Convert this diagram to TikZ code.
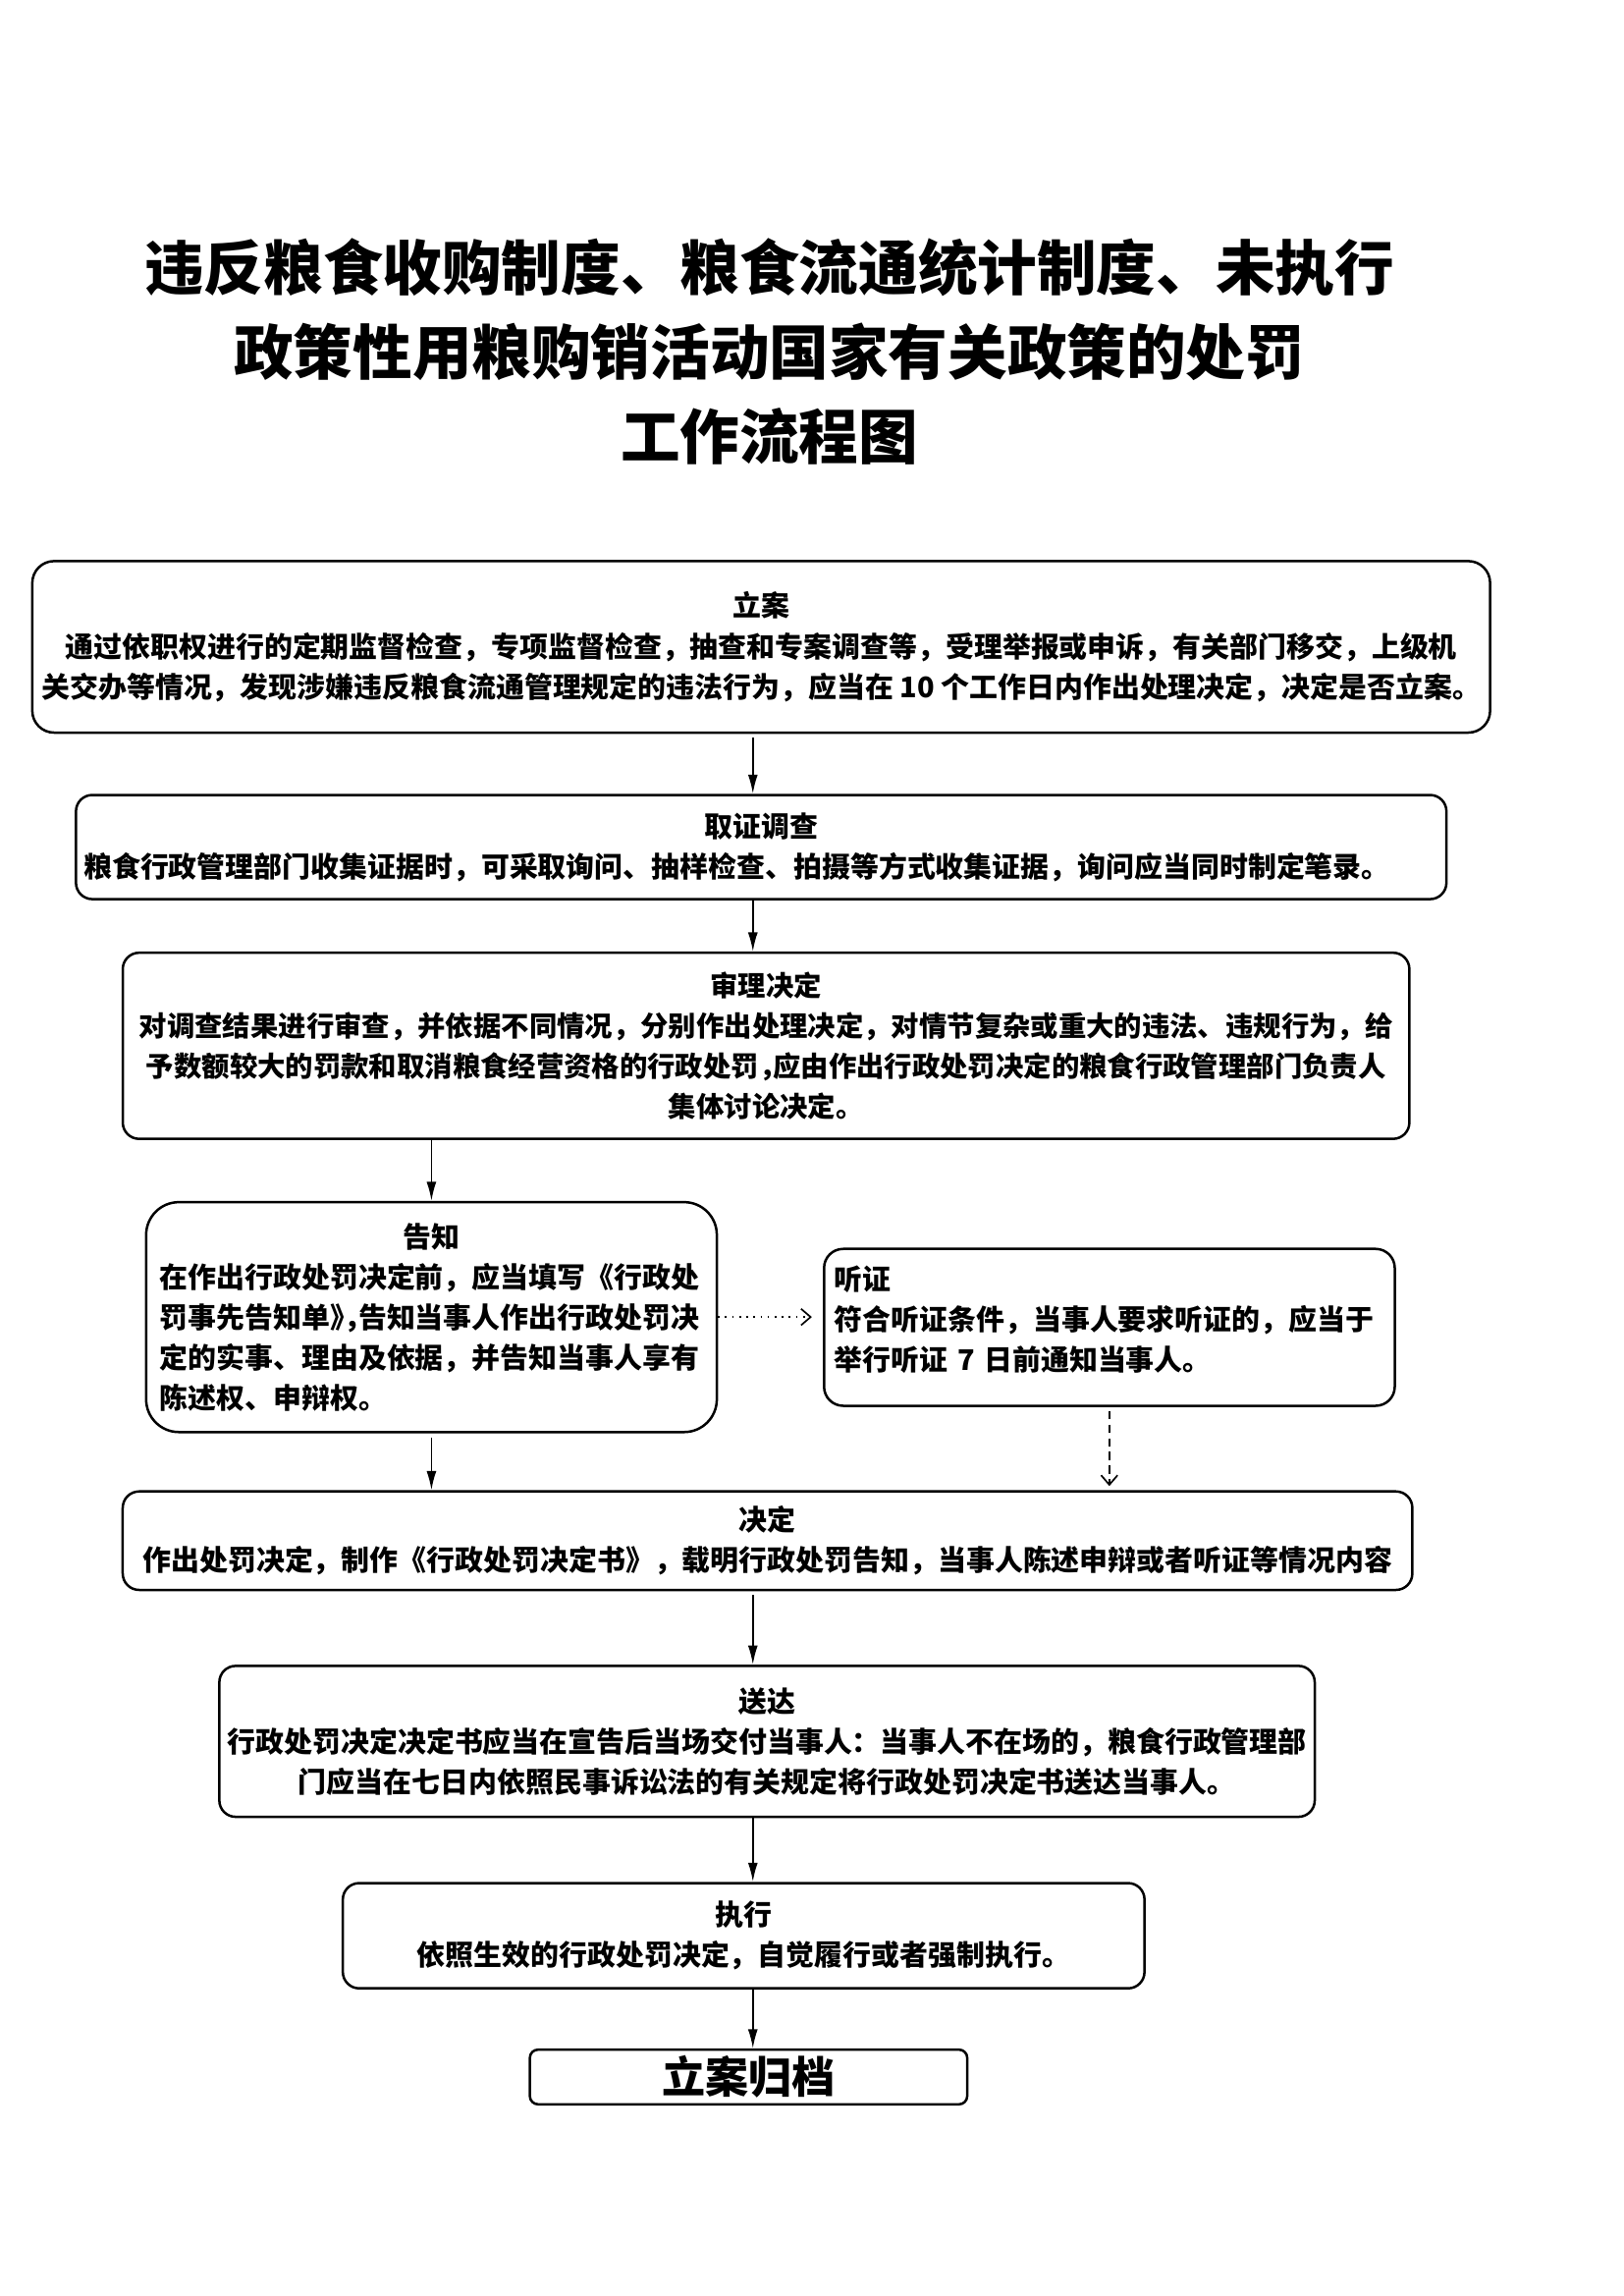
\documentclass[tikz,border=0pt]{standalone}
\usepackage{fontspec}
\newfontfamily\cjk{Noto Sans CJK SC}
\usetikzlibrary{arrows.meta}
\newcommand{\bodyfont}[1][10.5pt]{\cjk\bfseries\fontsize{#1}{14.9pt}\selectfont}
\newcommand{\hw}[1]{{\addfontfeatures{RawFeature=+halt}#1}}

\begin{document}
\begin{tikzpicture}[x=0.36012pt,y=-0.36012pt,
    box/.style={draw,line width=0.9pt,rounded corners=6pt,inner sep=2pt,font=\bodyfont},
    flow/.style={-{Latex[length=7pt,width=3.6pt]},line width=0.6pt},
    opt/.style={-{Straight Barb[length=3.5pt,width=6pt]},line width=0.6pt}]
            \path[use as bounding box,fill=white] (0,0) rectangle (1653,2338);
            \begin{scope}[scale=0.992,transform shape]
            \coordinate (axis) at (773,0);
            % title
            \node[font=\cjk\bfseries\fontsize{22pt}{31.1pt}\selectfont,align=center]
                (title) at (790,361) {违反粮食收购制度、粮食流通统计制度、未执行\\政策性用粮购销活动国家有关政策的处罚\\工作流程图};
            % steps
            \node[box,rounded corners=8pt,minimum width=539pt,minimum height=63.4pt,align=center]
                (la) at (781.5,664) {立案\\通过依职权进行的定期监督检查，专项监督检查，抽查和专案调查等，受理举报或申诉，有关部门移交，上级机\\关交办等情况，发现涉嫌违反粮食流通管理规定的违法行为，应当在 10 个工作日内作出处理决定，决定是否立案。};
            \node[box,minimum width=506.7pt,minimum height=38.5pt,inner sep=2.7pt,text width=501pt,align=left]
                (qz) at (781.5,869.5) {\makebox[\linewidth]{取证调查}\\粮食行政管理部门收集证据时，可采取询问、抽样检查、拍摄等方式收集证据，询问应当同时制定笔录。};
            \node[box,font={\bodyfont[10.3pt]},minimum width=475.7pt,minimum height=68.8pt,align=center]
                (sl) at (786.5,1073.5) {审理决定\\对调查结果进行审查，并依据不同情况，分别作出处理决定，对情节复杂或重大的违法、违规行为，给\\予数额较大的罚款和取消粮食经营资格的行政处罚\hw{，}应由作出行政处罚决定的粮食行政管理部门负责人\\集体讨论决定。};
            \node[box,rounded corners=12pt,minimum width=211pt,minimum height=85pt,inner sep=5pt,text width=201pt,align=left]
                (gz) at (443,1352) {\makebox[\linewidth]{告知}\\在作出行政处罚决定前，应当填写《行政处\\罚事先告知单\hw{》，}告知当事人作出行政处罚决\\定的实事、理由及依据，并告知当事人享有\\陈述权、申辩权。};
            \node[box,rounded corners=7pt,minimum width=211pt,minimum height=58pt,inner sep=3.8pt,text width=203.4pt,align=left]
                (tz) at (1139,1362.5) {听证\\符合听证条件，当事人要求听证的，应当于\\举行听证 7 日前通知当事人。\rule[-6.7pt]{0pt}{0pt}};
            \node[box,minimum width=476.8pt,minimum height=36.4pt,align=center]
                (jd) at (788,1581.5) {决定\\作出处罚决定，制作《行政处罚决定书》，载明行政处罚告知，当事人陈述申辩或者听证等情况内容};
            \node[box,minimum width=405pt,minimum height=55.8pt,align=center]
                (sd) at (787.5,1787.5) {送达\\行政处罚决定决定书应当在宣告后当场交付当事人：当事人不在场的，粮食行政管理部\\门应当在七日内依照民事诉讼法的有关规定将行政处罚决定书送达当事人。};
            \node[box,minimum width=296.4pt,minimum height=38.9pt,align=center]
                (zx) at (763.5,1987) {执行\\依照生效的行政处罚决定，自觉履行或者强制执行。};
            \node[box,rounded corners=3pt,font=\cjk\bfseries\fontsize{16pt}{18pt}\selectfont,minimum width=161.7pt,minimum height=20.2pt,inner sep=1pt]
                (gd) at (768.5,2132) {立案归档};
            % connectors
            \draw[flow,shorten <=1.5pt] (la.south -| axis) -- (qz.north -| axis);
            \draw[flow] (qz.south -| axis) -- (sl.north -| axis);
            \draw[flow] (sl.south -| gz.north) -- (gz.north);
            \draw[opt,dotted,shorten >=4pt] (gz.east) -- (gz.east -| tz.west);
            \draw[opt,dashed,dash pattern=on 3pt off 2pt,shorten <=1.5pt,shorten >=1.5pt]
                (tz.south) -- (tz.south |- jd.north);
            \draw[flow,shorten <=1.5pt] (gz.south) -- (gz.south |- jd.north);
            \draw[flow,shorten <=1.5pt] (jd.south -| axis) -- (sd.north -| axis);
            \draw[flow] (sd.south -| axis) -- (zx.north -| axis);
            \draw[flow] (zx.south -| axis) -- (gd.north -| axis);
            \end{scope}
        \end{tikzpicture}
\end{document}
